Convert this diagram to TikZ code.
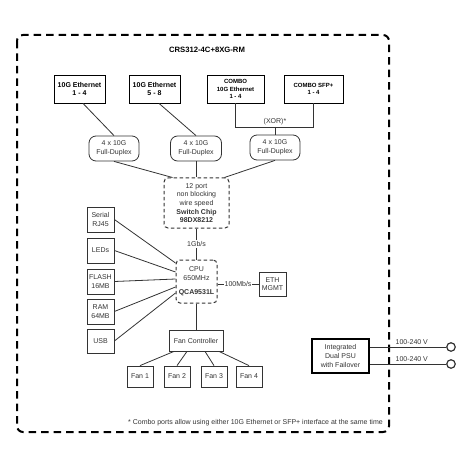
\documentclass[tikz,border=0pt]{standalone}
\usepackage{fontspec}
\setmainfont{Liberation Sans}
\usetikzlibrary{calc}
\definecolor{ink}{rgb}{0.2,0.2,0.2}
\tikzset{
  txt/.style={font=\fontsize{7}{8.7}\selectfont, text=ink, align=center, inner sep=0pt},
  bx/.style={txt, draw=ink, line width=0.8pt},
  bbx/.style={bx, draw=black, text=black, font=\fontsize{7}{8.7}\selectfont\bfseries},
  cbx/.style={bbx, font=\fontsize{6}{7.3}\selectfont\bfseries},
  rbx/.style={bx, rounded corners=7pt},
  chip/.style={bx, rounded corners=4pt, dash pattern=on 3.5pt off 2.5pt, line width=1pt},
  wire/.style={draw=ink, line width=0.8pt},
  lbl/.style={txt, fill=white, inner sep=1pt},
  term/.style={circle, draw=ink, line width=1.2pt, minimum size=8.5pt, inner sep=0pt}
}
\begin{document}
\begin{tikzpicture}[x=1pt,y=-1pt]
\useasboundingbox (0,0) rectangle (470,470);
% outer dashed frame
\draw[line width=2pt, rounded corners=6pt, dash pattern=on 7.5pt off 5pt] (17,35) rectangle (389,432);
\node[txt, font=\fontsize{7.7}{9}\selectfont\bfseries, text=black] (title) at (207,50) {CRS312-4C+8XG-RM};

% top port boxes
\node[bbx, minimum width=51, minimum height=28] (e14) at (79.5,89) {10G Ethernet\\1 - 4};
\node[bbx, minimum width=51, minimum height=28] (e58) at (154.5,89) {10G Ethernet\\5 - 8};
\node[cbx, minimum width=57, minimum height=28] (c10) at (235.5,89) {COMBO\\10G Ethernet\\1 - 4};
\node[cbx, minimum width=59, minimum height=28] (csfp) at (313.5,89) {COMBO SFP+\\1 - 4};

% rounded duplex boxes
\node[rbx, minimum width=50, minimum height=25] (r1) at (114,148.5) {4 x 10G\\Full-Duplex};
\node[rbx, minimum width=51, minimum height=25] (r2) at (196,148.5) {4 x 10G\\Full-Duplex};
\node[rbx, minimum width=50, minimum height=25] (r3) at (275,147.5) {4 x 10G\\Full-Duplex};

\coordinate (xl) at (235.5,127);
\coordinate (xr) at (313.5,127);
\coordinate (xm) at (275,127);

\draw[wire] ([xshift=3.5pt]e14.south) -- (r1.north);
\draw[wire] ([xshift=4.5pt]e58.south) -- (r2.north);
\draw[wire] (c10.south) -- (xl) -- (xr) -- (csfp.south);
\draw[wire] (xm) -- (r3.north);
\node[txt, anchor=south] (xor) at ([yshift=1.5pt]xm) {(XOR)*};

% switch chip
\node[chip, minimum width=65, minimum height=50] (sw) at (196.5,203)
  {12 port\\non blocking\\wire speed\\\textbf{Switch Chip}\\\textbf{98DX8212}};
\draw[wire] (r1.south) -- ([xshift=9pt]sw.north west);
\draw[wire] (r2.south) -- (r2.south |- sw.north);
\draw[wire] (r3.south) -- ([xshift=-5pt]sw.north east);

% CPU
\node[chip, minimum width=41, minimum height=43] (cpu) at (196.5,281.5)
  {CPU\\650MHz\\[6pt]\textbf{QCA9531L}};
\draw[wire] (sw.south) -- node[lbl] (gb) {1Gb/s} (cpu.north);

\node[bx, minimum width=27, minimum height=24] (eth) at (272.5,284) {ETH\\MGMT};
\draw[wire] (cpu.east |- eth.west) -- node[lbl] (mb) {100Mb/s} (eth.west);

% left peripherals
\node[bx, minimum width=27, minimum height=25] (ser) at (100.5,219.5) {Serial\\RJ45};
\node[bx, minimum width=27, minimum height=25] (led) at (100.5,250.5) {LEDs};
\node[bx, minimum width=27, minimum height=25] (fla) at (100.5,281.5) {FLASH\\16MB};
\node[bx, minimum width=27, minimum height=25] (ram) at (100.5,311.5) {RAM\\64MB};
\node[bx, minimum width=27, minimum height=24] (usb) at (100.5,341) {USB};
\draw[wire] (ser.east) -- ([yshift=18.5pt]cpu.west);
\draw[wire] (led.east) -- ([yshift=9.5pt]cpu.west);
\draw[wire] (fla.east) -- ([yshift=2.5pt]cpu.west);
\draw[wire] (ram.east) -- ([yshift=-5.5pt]cpu.west);
\draw[wire] (usb.east) -- ([yshift=-11.5pt]cpu.west);

% fans
\node[bx, minimum width=54, minimum height=21] (fc) at (196,340.5) {Fan Controller};
\draw[wire] (cpu.south -| fc.north) -- (fc.north);
\node[bx, minimum width=26, minimum height=21] (f1) at (140,376.5) {Fan 1};
\node[bx, minimum width=26, minimum height=21] (f2) at (177,376.5) {Fan 2};
\node[bx, minimum width=26, minimum height=21] (f3) at (214,376.5) {Fan 3};
\node[bx, minimum width=26, minimum height=21] (f4) at (249,376.5) {Fan 4};
\draw[wire] ([xshift=-22pt]fc.south) -- (f1.north);
\draw[wire] ([xshift=-9pt]fc.south) -- (f2.north);
\draw[wire] ([xshift=9pt]fc.south) -- (f3.north);
\draw[wire] ([xshift=23pt]fc.south) -- (f4.north);

% PSU
\node[bx, draw=black, line width=1.5pt, minimum width=57, minimum height=34] (psu) at (340.5,356)
  {Integrated\\Dual PSU\\with Failover};
\node[term] (p1) at (451,347) {};
\node[term] (p2) at (451,364) {};
\draw[wire] (psu.east |- p1.west) -- node[txt, above=2pt, pos=0.55] (v1) {100-240 V} (p1.west);
\draw[wire] (psu.east |- p2.west) -- node[txt, above=2pt, pos=0.55] (v2) {100-240 V} (p2.west);

% footnote
\node[txt, anchor=east] (note) at (383,423)
  {* Combo ports allow using either 10G Ethernet or SFP+ interface at the same time};
\end{tikzpicture}
\end{document}
